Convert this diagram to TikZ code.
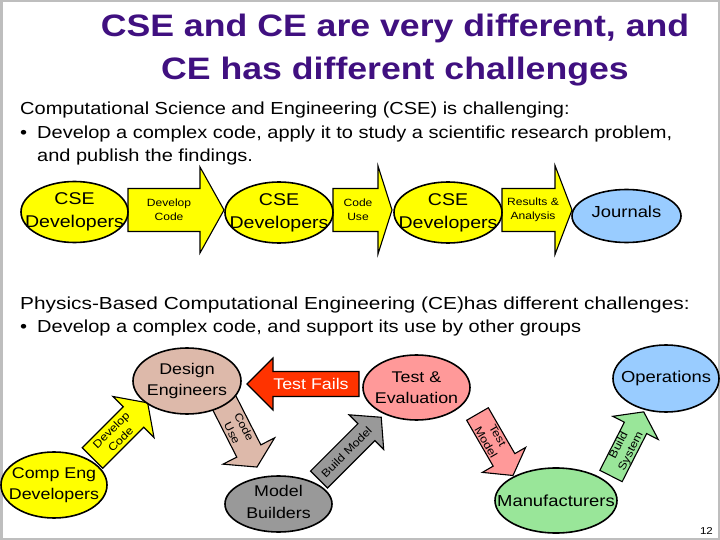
\documentclass[tikz,border=0pt]{standalone}
\usepackage{fontspec}
\setmainfont{Liberation Sans}[FakeStretch=1.15]
\usetikzlibrary{shapes.geometric}
\definecolor{ttl}{RGB}{64,16,128}
\definecolor{cyel}{RGB}{255,255,0}
\definecolor{cblue}{RGB}{153,204,255}
\definecolor{ctan}{RGB}{221,185,170}
\definecolor{cred}{RGB}{255,51,0}
\definecolor{cpink}{RGB}{255,153,153}
\definecolor{cgray}{RGB}{153,153,153}
\definecolor{cgreen}{RGB}{153,230,153}
\definecolor{cframe}{RGB}{190,190,190}
\tikzset{
  ell/.style={ellipse, draw=black, line width=1.6pt, inner sep=0pt},
  etxt/.style={align=center, inner sep=0pt, font=\fontsize{17}{23}\selectfont},
  etxts/.style={align=center, inner sep=0pt, font=\fontsize{15.5}{21.5}\selectfont},
  barr/.style={draw=black, line width=1.1pt, line join=miter},
  alab/.style={align=center, inner sep=0pt, font=\fontsize{10.5}{14}\selectfont},
  dlab/.style={font=\fontsize{11}{13.5}\selectfont},
  txt/.style={inner sep=0pt, font=\fontsize{17.4}{20}\selectfont},
  ttlstyle/.style={inner sep=0pt, text=ttl, font=\fontsize{31}{37}\selectfont\bfseries},
}
% #1 fill style, #2 tail, #3 angle, #4 length, #5 shaft width, #6 head width, #7 head length, #8 label options, #9 label
\newcommand\blockarr[9]{%
  \begin{scope}[shift={#2},rotate=#3]
    \path[barr,#1] (0,-#5/2) -- ({#4-#7},-#5/2) -- ({#4-#7},-#6/2) -- (#4,0)
      -- ({#4-#7},#6/2) -- ({#4-#7},#5/2) -- (0,#5/2) -- cycle;
    \node[alab,transform shape,#8] at ({(#4-#7)/2},0) {#9};
  \end{scope}}
\begin{document}
\begin{tikzpicture}[x=1pt,y=-1pt]
\useasboundingbox (0,0) rectangle (720,540);
\fill[white] (0,0) rectangle (720,540);
\draw[cframe,line width=2.5pt] (1.25,1.25) rectangle (718.75,538.75);

% title
\node[ttlstyle, anchor=base] (title1) at (395,37) {CSE and CE are very different, and};
\node[ttlstyle, anchor=base] (title2) at (395,80) {CE has different challenges};

% CSE text
\node[txt, anchor=base west] (csea) at (20,115) {Computational Science and Engineering (CSE) is challenging:};
\node[txt, anchor=base west] (cseb) at (20,139) {•};
\node[txt, anchor=base west] (csec) at (37,139) {Develop a complex code, apply it to study a scientific research problem,};
\node[txt, anchor=base west] (csed) at (37,162) {and publish the findings.};

% CE text
\node[txt, anchor=base west] (cea) at (20,309) {\scalebox{1.042}[1]{Physics-Based Computational Engineering (CE)has different challenges:}};
\node[txt, anchor=base west] (ceb) at (20,332) {•};
\node[txt, anchor=base west] (cec) at (37,332) {Develop a complex code, and support its use by other groups};

% top arrows
\blockarr{fill=cyel}{(128,210)}{0}{96}{43}{86}{24}{name=lab1,xshift=5pt}{Develop\\Code}
\blockarr{fill=cyel}{(333,210)}{0}{59}{43}{88}{14}{name=lab2,xshift=2.5pt}{Code\\Use}
\blockarr{fill=cyel}{(502,210)}{0}{70}{43}{89}{17}{name=lab3,xshift=4.5pt}{Results \&\\Analysis}

% bottom arrows
\blockarr{fill=cyel}{(92.5,458)}{45}{78}{29}{58}{20}{name=lab4,xshift=4pt,dlab}{Develop\\Code}
\blockarr{fill=ctan}{(218.4,391.3)}{-63}{85}{27}{58}{18}{name=lab5,xshift=10pt,dlab}{Code\\Use}
\blockarr{fill=cgray}{(319,479.5)}{45}{88}{24}{49}{21}{name=lab6,xshift=5.5pt,dlab}{Build Model}
\blockarr{fill=cpink}{(477.5,414)}{-60}{71}{25}{50}{18}{name=lab7,xshift=2pt,dlab}{Test\\Model}
\blockarr{fill=cgreen}{(611,476)}{63}{72}{25}{51}{18}{name=lab8,xshift=4pt,dlab}{Build\\System}
\blockarr{fill=cred}{(359,384)}{180}{112}{25}{52}{26}{name=lab9,xshift=5pt,rotate=180,text=white,font=\fontsize{15.5}{18}\selectfont}{Test Fails}

% top ellipses
\node[ell, fill=cyel, minimum width=107pt, minimum height=61pt] (dev1) at (74.5,212) {};
\node[etxt] (dev1t) at (dev1) {CSE\\Developers};
\node[ell, fill=cyel, minimum width=108pt, minimum height=61pt] (dev2) at (279,212.5) {};
\node[etxt] (dev2t) at (dev2) {CSE\\Developers};
\node[ell, fill=cyel, minimum width=108pt, minimum height=61pt] (dev3) at (448,212.5) {};
\node[etxt] (dev3t) at (dev3) {CSE\\Developers};
\node[ell, fill=cblue, minimum width=109pt, minimum height=53pt] (jour) at (626.5,216) {};
\node[etxt, font=\fontsize{16}{20}\selectfont] (jourt) at (626.5,211.5) {Journals};

% bottom ellipses
\node[ell, fill=ctan, minimum width=108pt, minimum height=66pt] (design) at (187,381) {};
\node[etxts] (designt) at (design) {Design\\Engineers};
\node[ell, fill=cyel, minimum width=106pt, minimum height=66pt] (comp) at (54,485) {};
\node[etxts] (compt) at (comp) {Comp Eng\\Developers};
\node[ell, fill=cgray, minimum width=107pt, minimum height=56pt] (model) at (278.5,504) {};
\node[etxts] (modelt) at (278.5,502) {Model\\Builders};
\node[ell, fill=cpink, minimum width=107pt, minimum height=65pt] (te) at (416.5,387.5) {};
\node[etxts] (tet) at (te) {Test \&\\Evaluation};
\node[ell, fill=cgreen, minimum width=122pt, minimum height=65pt] (manuf) at (556,500.5) {};
\node[etxts, font=\fontsize{16}{20}\selectfont] (manuft) at (manuf) {Manufacturers};
\node[ell, fill=cblue, minimum width=106pt, minimum height=67pt] (ops) at (666,378.5) {};
\node[etxts, font=\fontsize{16}{20}\selectfont] (opst) at (ops) {Operations};

% page number
\node[inner sep=0pt, anchor=base east, font=\fontsize{10}{12}\selectfont] (pg) at (713,534) {12};
\end{tikzpicture}
\end{document}
